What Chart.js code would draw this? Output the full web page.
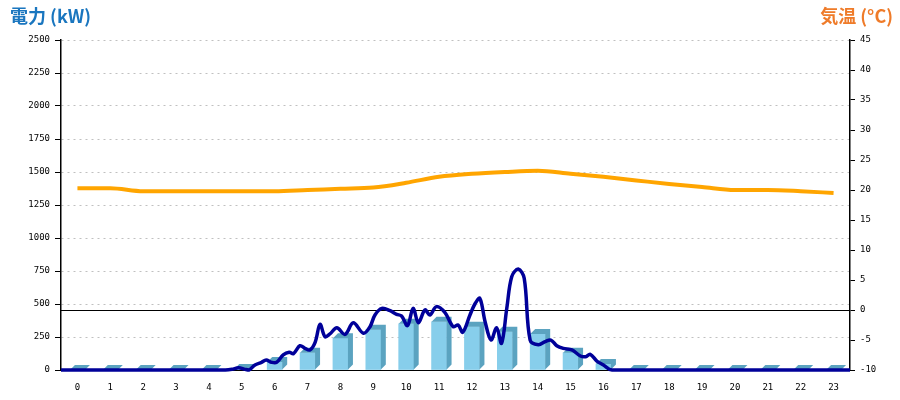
<!DOCTYPE html>
<html>
<head>
<meta charset="utf-8">
<script src="https://cdn.jsdelivr.net/npm/chart.js@4.4.0/dist/chart.umd.min.js"></script>
<style>
  html, body { margin: 0; padding: 0; background: #fff; }
  #wrap { position: relative; width: 900px; height: 400px; }
  .ttl { position: absolute; top: 3px; font: bold 18px 'Noto Sans CJK JP', sans-serif; line-height: 24px; }
  #ttlL { left: 10px; color: #1a76bf; }
  #ttlR { right: 7px; color: #ef7b29; }
</style>
</head>
<body>
<div id="wrap">
  <canvas id="chart" width="900" height="400"></canvas>
  <div class="ttl" id="ttlL">電力 (kW)</div>
  <div class="ttl" id="ttlR">気温 (°C)</div>
</div>
<script>
// hourly categories
const hours = ['0','1','2','3','4','5','6','7','8','9','10','11','12','13','14','15','16','17','18','19','20','21','22','23'];
// hourly generation (bars, left axis)
const hourlyPower = [0, 0, 0, 0, 0, 8, 60, 130, 240, 305, 350, 365, 328, 290, 273, 131, 45, 0, 0, 0, 0, 0, 0, 0];
// hourly temperature (right axis)
const temperature = [20.3, 20.3, 19.8, 19.8, 19.8, 19.8, 19.8, 20.0, 20.2, 20.4, 21.2, 22.2, 22.7, 23.0, 23.2, 22.7, 22.2, 21.6, 21.0, 20.5, 20.0, 20.0, 19.8, 19.5];
// instantaneous power, time in hours
const powerTimes = [0, 5.0, 5.2, 5.4, 5.6, 5.72, 5.9, 6.1, 6.24, 6.41, 6.56, 6.76, 6.94, 7.07, 7.27, 7.42, 7.57, 7.73, 7.88, 8.03, 8.18,
  8.39, 8.64, 8.89, 9.2, 9.4, 9.55, 9.76, 10.01, 10.21, 10.36, 10.54, 10.71, 10.87, 11.07, 11.22, 11.42, 11.68, 11.93, 12.08, 12.22,
  12.44, 12.59, 12.74, 12.9, 13.08, 13.25, 13.4, 13.56, 13.71, 13.91, 14.09, 14.27, 14.52, 14.73, 14.9, 15.08, 15.28, 15.54, 15.8,
  15.96, 16.1, 16.3, 16.5, 16.76, 24];
const powerKw = [0, 0, 5, 17, 5, 0, 38, 58, 76, 58, 58, 114, 134, 124, 184, 164, 152, 210, 346, 252, 273,
  320, 270, 358, 278, 328, 417, 467, 449, 422, 409, 336, 467, 358, 455, 417, 480, 434, 328, 341, 286,
  417, 500, 543, 366, 227, 320, 202, 467, 707, 765, 695, 227, 192, 215, 227, 184, 164, 152, 106,
  101, 119, 68, 38, 0, 0];
// axis ticks
const powerTicks = { min: 0, max: 2500, step: 250 };
const tempTicks = { min: -10, max: 45, step: 5 };

const tickFont = { family: "'DejaVu Sans Mono', monospace", size: 9 };

// draws the depth (top + right side) of each bar
const bar3d = {
  id: 'bar3d',
  afterDatasetDraw(chart, args) {
    if (args.meta.type !== 'bar') return;
    const ctx = chart.ctx;
    const dx = 5, dy = 5;
    ctx.save();
    ctx.fillStyle = '#5ba3c0';
    args.meta.data.forEach(function(bar) {
      const p = bar.getProps(['x', 'y', 'base', 'width'], true);
      const l = p.x - p.width / 2, r = p.x + p.width / 2;
      ctx.beginPath();
      ctx.moveTo(l, p.y);
      ctx.lineTo(l + dx, p.y - dy);
      ctx.lineTo(r + dx, p.y - dy);
      ctx.lineTo(r + dx, p.base - dy);
      ctx.lineTo(r, p.base);
      ctx.lineTo(r, p.y);
      ctx.closePath();
      ctx.fill();
    });
    ctx.restore();
  }
};

new Chart(document.getElementById('chart'), {
  type: 'bar',
  data: {
    labels: hours,
    datasets: [
      {
        type: 'line',
        data: powerTimes.map((t, i) => ({ x: t, y: powerKw[i] })),
        xAxisID: 'x2',
        yAxisID: 'y',
        borderColor: '#000099',
        borderWidth: 3.5,
        pointRadius: 0,
        tension: 0.35,
        clip: 6,
        order: 1
      },
      {
        type: 'line',
        data: temperature,
        xAxisID: 'x',
        yAxisID: 'y1',
        borderColor: '#ffa500',
        borderWidth: 4,
        pointRadius: 0,
        cubicInterpolationMode: 'monotone',
        order: 2
      },
      {
        type: 'bar',
        data: hourlyPower,
        xAxisID: 'x',
        yAxisID: 'y',
        backgroundColor: '#87ceeb',
        borderWidth: 0,
        barThickness: 15,
        grouped: false,
        order: 3
      }
    ]
  },
  options: {
    responsive: false,
    animation: false,
    layout: { padding: { top: 40, left: 0, right: 0, bottom: 0 } },
    plugins: { legend: { display: false }, tooltip: { enabled: false } },
    scales: {
      x: {
        offset: true,
        grid: { display: false },
        border: { color: '#000', width: 1 },
        ticks: { color: '#000', font: tickFont, padding: 4, maxRotation: 0, autoSkip: false },
        afterFit: function(scale) { scale.height = 30; }
      },
      x2: {
        type: 'linear',
        display: false,
        offset: false,
        grid: { offset: false },
        min: 0,
        max: 24
      },
      y: {
        position: 'left',
        min: powerTicks.min,
        max: powerTicks.max,
        ticks: { stepSize: powerTicks.step, color: '#000', font: tickFont, padding: 5, callback: v => String(v) },
        grid: {
          color: ctx => ctx.tick && ctx.tick.value === 0 ? 'rgba(0,0,0,0)' : '#c0c0c0',
          tickColor: '#000',
          tickLength: 6,
          lineWidth: 1
        },
        border: { color: '#000', width: 1.5, dash: [2, 4] },
        afterFit: function(scale) { scale.width = 61; }
      },
      y1: {
        position: 'right',
        min: tempTicks.min,
        max: tempTicks.max,
        ticks: { stepSize: tempTicks.step, color: '#000', font: tickFont, padding: 5, callback: v => String(v) },
        grid: {
          drawOnChartArea: true,
          color: ctx => ctx.tick && ctx.tick.value === 0 ? '#000' : 'rgba(0,0,0,0)',
          tickColor: '#000',
          tickLength: 5,
          lineWidth: 1
        },
        border: { color: '#000', width: 1.5 },
        afterFit: function(scale) { scale.width = 50; }
      }
    }
  },
  plugins: [bar3d]
});
</script>
</body>
</html>
